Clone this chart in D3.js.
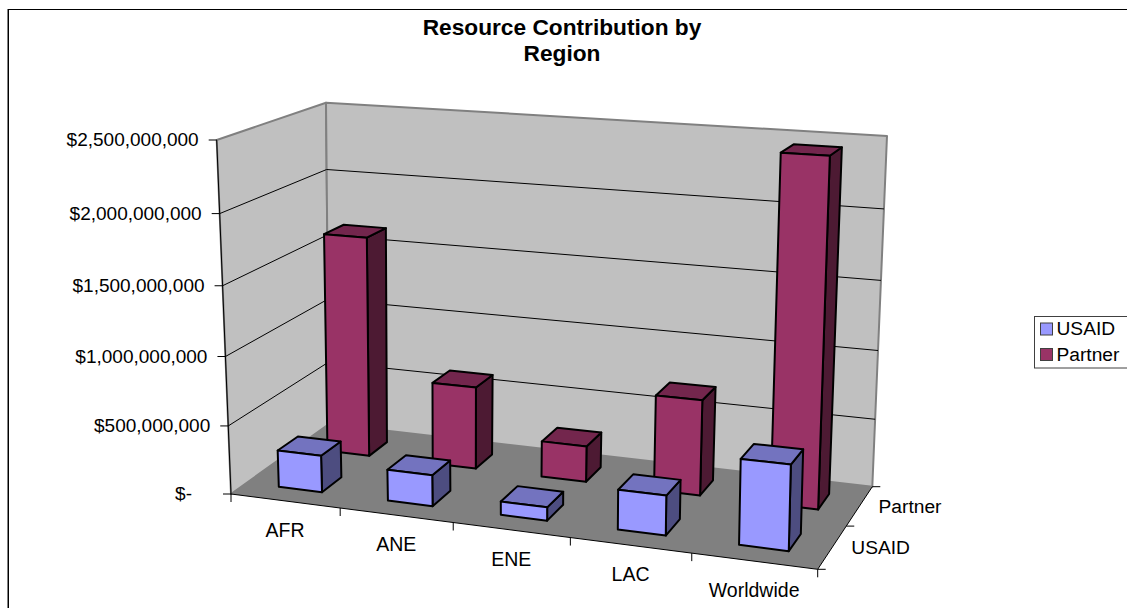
<!DOCTYPE html>
<html>
<head>
<meta charset="utf-8">
<script src="https://cdn.jsdelivr.net/npm/d3@7"></script>
<style>
  html, body { margin: 0; padding: 0; background: #fff; }
  svg { display: block; }
  text { font-family: "Liberation Sans", Arial, sans-serif; fill: #000; }
</style>
</head>
<body>
<div id="chart"></div>
<script>
const width = 1127, height = 608;

// data
const categories = ["AFR", "ANE", "ENE", "LAC", "Worldwide"];
const seriesNames = ["USAID", "Partner"];
const usaid = [270000000, 225000000, 95000000, 280000000, 590000000];
const partner = [1650000000, 615000000, 265000000, 695000000, 2450000000];
const valueTicks = [0, 500000000, 1000000000, 1500000000, 2000000000, 2500000000];
const valueLabels = ["$-", "$500,000,000", "$1,000,000,000", "$1,500,000,000", "$2,000,000,000", "$2,500,000,000"];

const frontColors = { USAID: "#9999FF", Partner: "#993366" };
const topColors = { USAID: "#7373BF", Partner: "#73264D" };
const sideColors = { USAID: "#4D4D80", Partner: "#4D1A33" };

// scales work in the unit cube, project() takes it to the screen
const x = d3.scaleBand().domain(categories).range([0, 1]).paddingInner(0.6).paddingOuter(0.3);
const z = d3.scaleBand().domain(seriesNames).range([0, 1]).paddingInner(0.6).paddingOuter(0.3);
const y = d3.scaleLinear().domain([0, 2500000000]).range([0, 1]);

// solve a small linear system (gauss)
function solve(A, b) {
    const n = b.length;
    const M = A.map((row, i) => row.concat(b[i]));
    for (let c = 0; c < n; c++) {
        let p = c;
        for (let r = c + 1; r < n; r++) if (Math.abs(M[r][c]) > Math.abs(M[p][c])) p = r;
        [M[c], M[p]] = [M[p], M[c]];
        for (let r = 0; r < n; r++) {
            if (r === c) continue;
            const f = M[r][c] / M[c][c];
            for (let k = c; k <= n; k++) M[r][k] -= f * M[c][k];
        }
    }
    return M.map((row, i) => row[n] / row[i]);
}

// homography of the unit square onto four screen corners
function planeFrom(corners) {
    const rows = [], rhs = [];
    corners.forEach(([u, v, sx, sy]) => {
        rows.push([u, v, 1, 0, 0, 0, -u * sx, -v * sx]); rhs.push(sx);
        rows.push([0, 0, 0, u, v, 1, -u * sy, -v * sy]); rhs.push(sy);
    });
    const h = solve(rows, rhs);
    return (u, v) => {
        const d = h[6] * u + h[7] * v + 1;
        return [(h[0] * u + h[1] * v + h[2]) / d, (h[3] * u + h[4] * v + h[5]) / d];
    };
}

const floorPlane = planeFrom([[0, 0, 231, 494], [1, 0, 817.7, 569.3], [1, 1, 872.3, 486.7], [0, 1, 329, 424]]);
const topPlane = planeFrom([[0, 0, 216.7, 140], [1, 0, 827, 180], [1, 1, 887, 136], [0, 1, 326, 102.7]]);
const heightPersp = 0.05; // upper gridlines are spaced a little wider

function project(u, v, w) {
    const a = floorPlane(u, v), b = topPlane(u, v);
    const s = w / (1 + heightPersp * (1 - w));
    return [a[0] + (b[0] - a[0]) * s, a[1] + (b[1] - a[1]) * s];
}

const line = d3.line();

const svg = d3.select("#chart")
    .append("svg")
    .attr("width", width)
    .attr("height", height)
    .attr("viewBox", [0, 0, width, height]);

// chart border, only the top and left sides are in frame
svg.append("path").attr("d", line([[8, 9.5], [width, 9.5]])).attr("stroke", "#000").attr("fill", "none");
svg.append("path").attr("d", line([[7.5, 9], [7.5, height]])).attr("stroke", "#808080").attr("fill", "none");
svg.append("path").attr("d", line([[8.5, 9], [8.5, height]])).attr("stroke", "#000").attr("fill", "none");

function face(g, pts, fill, stroke, sw) {
    return g.append("path")
        .attr("d", line(pts) + "Z")
        .attr("fill", fill)
        .attr("stroke", stroke)
        .attr("stroke-width", sw)
        .attr("stroke-linejoin", "round");
}

// walls and floor
const box = svg.append("g");
face(box, [project(0, 0, 0), project(0, 1, 0), project(0, 1, 1), project(0, 0, 1)], "#C0C0C0", "#808080", 2);
face(box, [project(0, 1, 0), project(1, 1, 0), project(1, 1, 1), project(0, 1, 1)], "#C0C0C0", "#808080", 2);
face(box, [project(0, 0, 0), project(1, 0, 0), project(1, 1, 0), project(0, 1, 0)], "#808080", "none", 0);

// gridlines run along the left wall then the back wall
valueTicks.slice(1, -1).forEach(t => {
    box.append("path")
        .attr("d", line([project(0, 0, y(t)), project(0, 1, y(t)), project(1, 1, y(t))]))
        .attr("fill", "none")
        .attr("stroke", "#000")
        .attr("stroke-width", 1);
});

// axis lines and ticks
const axes = svg.append("g").attr("stroke", "#000").attr("fill", "none").attr("stroke-width", 1);
axes.append("path").attr("d", line([project(0, 0, 1), project(0, 0, 0), project(1, 0, 0), project(1, 1, 0)]));

valueTicks.forEach(t => {
    const p = project(0, 0, y(t));
    axes.append("path").attr("d", line([[p[0] - 8, p[1]], p]));
});
d3.range(categories.length + 1).forEach(i => {
    const p = project(i / categories.length, 0, 0);
    axes.append("path").attr("d", line([p, [p[0], p[1] + 8]]));
});
d3.range(seriesNames.length + 1).forEach(i => {
    const p = project(1, i / seriesNames.length, 0);
    axes.append("path").attr("d", line([p, [p[0] + 8, p[1]]]));
});

// bars, back row first so the front row covers it
const rowsBack = [
    { name: "Partner", values: partner },
    { name: "USAID", values: usaid }
];
rowsBack.forEach(s => {
    const g = svg.append("g").attr("class", "series-" + s.name);
    s.values.forEach((v, i) => {
        const x0 = x(categories[i]), x1 = x0 + x.bandwidth();
        const z0 = z(s.name), z1 = z0 + z.bandwidth();
        const t = y(v);
        face(g, [project(x1, z0, 0), project(x1, z1, 0), project(x1, z1, t), project(x1, z0, t)], sideColors[s.name], "#000", 2);
        face(g, [project(x0, z0, t), project(x1, z0, t), project(x1, z1, t), project(x0, z1, t)], topColors[s.name], "#000", 2);
        face(g, [project(x0, z0, 0), project(x1, z0, 0), project(x1, z0, t), project(x0, z0, t)], frontColors[s.name], "#000", 2);
    });
});

// value labels, "$-" sits further left because of the accounting format
valueTicks.forEach((t, i) => {
    const p = project(0, 0, y(t));
    svg.append("text")
        .attr("x", p[0] - (t === 0 ? 39 : 18))
        .attr("y", p[1] + 6)
        .attr("text-anchor", "end")
        .attr("font-size", 19)
        .text(valueLabels[i]);
});

// category labels
categories.forEach((c, i) => {
    const p = project((i + 0.5) / categories.length, 0, 0);
    svg.append("text")
        .attr("x", p[0])
        .attr("y", p[1] + 36)
        .attr("text-anchor", "middle")
        .attr("font-size", 19.5)
        .text(c);
});

// series labels on the depth axis
seriesNames.forEach((c, i) => {
    const p = project(1, (i + 0.5) / seriesNames.length, 0);
    svg.append("text")
        .attr("x", p[0] + 19)
        .attr("y", p[1] + 7)
        .attr("font-size", 19.2)
        .text(c);
});

// title
svg.append("text")
    .attr("x", 562).attr("y", 35)
    .attr("text-anchor", "middle")
    .attr("font-size", 22.7)
    .attr("font-weight", "bold")
    .text("Resource Contribution by");
svg.append("text")
    .attr("x", 562).attr("y", 61)
    .attr("text-anchor", "middle")
    .attr("font-size", 22.7)
    .attr("font-weight", "bold")
    .text("Region");

// legend
const legend = svg.append("g");
legend.append("rect")
    .attr("x", 1034.5).attr("y", 316.5)
    .attr("width", 95).attr("height", 51.5)
    .attr("fill", "#fff")
    .attr("stroke", "#404040");
seriesNames.forEach((c, i) => {
    legend.append("rect")
        .attr("x", 1040.5).attr("y", 323 + i * 25.5)
        .attr("width", 12).attr("height", 12)
        .attr("fill", frontColors[c])
        .attr("stroke", "#404040");
    legend.append("text")
        .attr("x", 1056.5).attr("y", 335 + i * 25.5)
        .attr("font-size", 19.2)
        .text(c);
});
</script>
</body>
</html>
